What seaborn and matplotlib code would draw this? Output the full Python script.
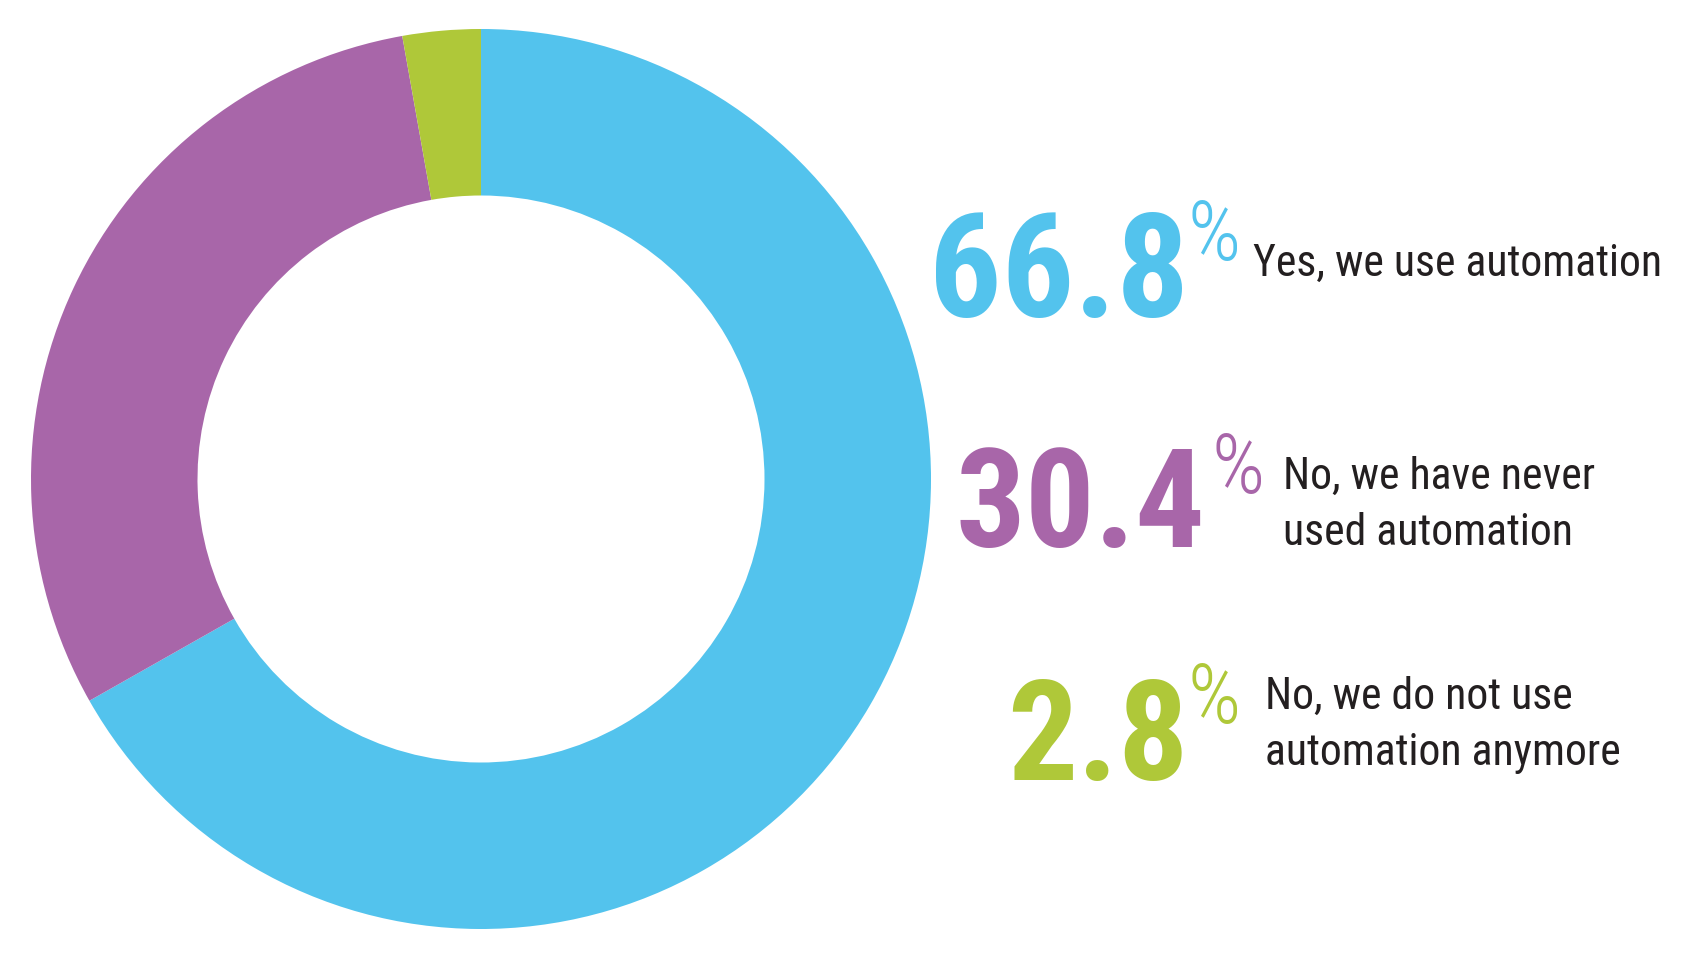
import os
import matplotlib
matplotlib.use("Agg")
import matplotlib.pyplot as plt
from matplotlib import font_manager as fm
import seaborn as sns

# ---- data ----
categories = ["Yes, we use automation",
              "No, we have never\nused automation",
              "No, we do not use\nautomation anymore"]
values = [66.8, 30.4, 2.8]
value_labels = ["66.8", "30.4", "2.8"]
colors = ["#53C3ED", "#A866A9", "#AFC839"]

sns.set_theme(style="white")
plt.rcParams["font.family"] = ["DejaVu Sans"]


def pick(cands, fallback_family, weight="normal"):
    files = {}
    for f in fm.fontManager.ttflist:
        base = os.path.splitext(os.path.basename(f.fname))[0].lower()
        files.setdefault(base, f.fname)
    for c in cands:
        if c.lower() in files:
            return fm.FontProperties(fname=files[c.lower()])
    return fm.FontProperties(family=fallback_family, weight=weight)


num_font = pick(["NotoSans-CondensedBlack", "NotoSans-CondensedExtraBold",
                 "RobotoCondensed-Black", "RobotoCondensed-ExtraBold", "RobotoCondensed-Bold",
                 "OpenSans-CondensedExtraBold", "OpenSans_Condensed-ExtraBold",
                 "OpenSans-CondensedBold", "LiberationSansNarrow-Bold",
                 "DejaVuSansCondensed-Bold", "Lato-Black", "Roboto-Black"],
                "DejaVu Sans", "bold")
lab_font = pick(["NotoSans-Condensed", "NotoSans-CondensedRegular", "RobotoCondensed-Regular",
                 "OpenSans-CondensedRegular", "OpenSans_Condensed-Regular",
                 "LiberationSansNarrow-Regular", "LiberationSansNarrow",
                 "DejaVuSansCondensed", "Roboto-Regular"], "DejaVu Sans")
pct_font = pick(["NotoSans-CondensedLight", "RobotoCondensed-Light",
                 "OpenSans-CondensedLight", "OpenSans_Condensed-Light",
                 "NotoSans-Condensed", "RobotoCondensed-Regular",
                 "LiberationSansNarrow-Regular", "DejaVuSansCondensed", "Roboto-Light"],
                "DejaVu Sans")

W, H = 1698, 960
fig = plt.figure(figsize=(W / 100, H / 100), dpi=100)
fig.patch.set_facecolor("white")
renderer = fig.canvas.get_renderer()

# donut: centre (481, 479) px, radius 450 px
cx, cy, r = 481, 479, 450
ax = fig.add_axes([(cx - r) / W, (H - cy - r) / H, 2 * r / W, 2 * r / H])
ax.pie(values, colors=colors, startangle=90, counterclock=False, radius=1,
       wedgeprops=dict(width=0.37, edgecolor="none", linewidth=0))
ax.set_xlim(-1, 1)
ax.set_ylim(-1, 1)
ax.set_axis_off()


def fx(px):
    return px / W


def fy(py):
    return 1 - py / H


def width_px(t):
    return t.get_window_extent(renderer).width


def fit(t, target_w, target_cap, cap_ratio=0.71, wh=0.55):
    """Font size between a width fit and a cap-height fit (weight wh on height)."""
    fs = t.get_fontsize()
    fs_w = fs * target_w / width_px(t)
    fs_h = target_cap / cap_ratio * 72 / 100
    t.set_fontsize(fs_w ** (1 - wh) * fs_h ** wh)


# per row: number right x, number baseline, number width, number cap height,
#          % left x, % baseline, label left x, label first baseline
rows = [
    (1189, 317, 222, 116, 1187, 260, 1253, 276),
    (1205, 547, 210, 113, 1211, 493, 1283, 489),
    (1189, 780, 157, 111, 1187, 723, 1265, 709),
]
label_color = "#231F20"

# label font size: fit all label lines to their widths in the reference
targets = [404, 322, 287, 312, 352]
lines_all = [ln for lab in categories for ln in lab.split("\n")]
probe_fs = 36
probe_w = 0
for ln in lines_all:
    p = fig.text(0, 0, ln, fontproperties=lab_font, fontsize=probe_fs)
    probe_w += width_px(p)
    p.remove()
lab_fs = probe_fs * sum(targets) / probe_w

for (nx, nb, nw, nh, px_, pb, lx, lb), num, lab, col in zip(rows, value_labels, categories, colors):
    t = fig.text(fx(nx), fy(nb), num, color=col, fontproperties=num_font,
                 fontsize=100, ha="right", va="baseline")
    fit(t, nw, nh)
    p = fig.text(fx(px_), fy(pb), "%", color=col, fontproperties=pct_font,
                 fontsize=50, ha="left", va="baseline")
    fit(p, 47, 64, wh=0.6)
    for i, line in enumerate(lab.split("\n")):
        fig.text(fx(lx), fy(lb + i * 56), line, color=label_color,
                 fontproperties=lab_font, fontsize=lab_fs, ha="left", va="baseline")

fig.savefig("out.png", dpi=100, facecolor="white")
